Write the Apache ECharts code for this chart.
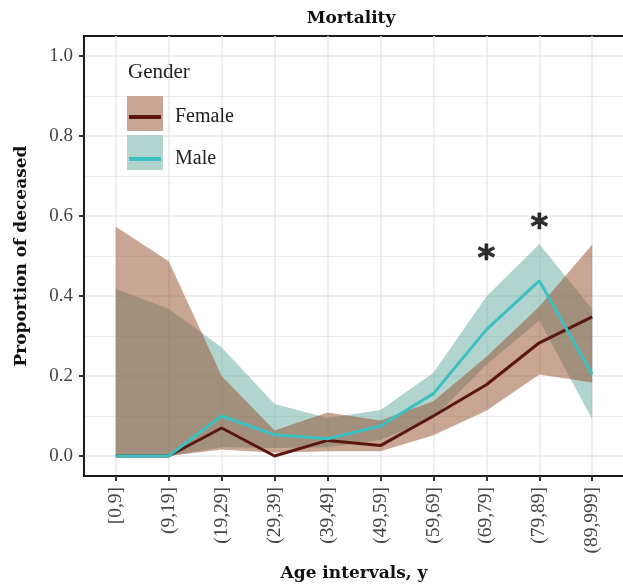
<!DOCTYPE html>
<html>
<head>
<meta charset="utf-8">
<script src="https://cdn.jsdelivr.net/npm/echarts@6/dist/echarts.min.js"></script>
<style>
html,body{margin:0;padding:0;background:#fff;}
#chart{width:623px;height:586px;}
</style>
</head>
<body>
<div id="chart"></div>
<script>
var categories = ['[0,9]','(9,19]','(19,29]','(29,39]','(39,49]','(49,59]','(59,69]','(69,79]','(79,89]','(89,999]'];
var femaleMean  = [0, 0, 0.070, 0.000, 0.039, 0.026, 0.100, 0.178, 0.283, 0.348];
var femaleLower = [0, 0, 0.016, 0.008, 0.012, 0.012, 0.052, 0.113, 0.204, 0.184];
var femaleUpper = [0.573, 0.487, 0.200, 0.064, 0.109, 0.089, 0.137, 0.248, 0.374, 0.529];
var maleMean  = [0, 0, 0.100, 0.053, 0.043, 0.075, 0.156, 0.316, 0.438, 0.204];
var maleLower = [0, 0, 0.022, 0.020, 0.022, 0.040, 0.095, 0.228, 0.339, 0.092];
var maleUpper = [0.418, 0.368, 0.272, 0.130, 0.095, 0.115, 0.208, 0.399, 0.530, 0.367];
var starIdx = [7, 8];
var starY = [0.507, 0.584];
var yMajorTicks = [0, 0.2, 0.4, 0.6, 0.8, 1.0];
var yMinorLines = [0.1, 0.3, 0.5, 0.7, 0.9];

var FONT = '"Liberation Serif", "DejaVu Serif", serif';
var BOLDFONT = '"DejaVu Serif", "Liberation Serif", serif';
var femaleFill = 'rgba(147,75,41,0.5)', maleFill = 'rgba(101,169,157,0.5)';
var femaleKey = '#c9a594', maleKey = '#b2d4ce';
var femaleLine = '#5a1712', maleLine = '#3cbfc1';

function pairs(arr){ return arr.map(function(v,i){ return [i, v]; }); }
var xIdx = categories.map(function(c,i){ return i; });

function ribbon(upper, lower, fill){
  return function(params, api){
    if (params.dataIndex !== 0) return null;
    var pts = [];
    for (var i = 0; i < upper.length; i++) pts.push(api.coord([i, upper[i]]));
    for (var j = lower.length - 1; j >= 0; j--) pts.push(api.coord([j, lower[j]]));
    return {type: 'polygon', shape: {points: pts}, style: {fill: fill, stroke: null}};
  };
}

var chart = echarts.init(document.getElementById('chart'), null, {renderer:'canvas'});
var option = {
  animation: false,
  backgroundColor: '#fff',
  textStyle: {fontFamily: FONT},
  title: [
    {text: 'Mortality', left: 351, top: 10, padding: 0, textAlign: 'center',
     textStyle: {fontFamily: BOLDFONT, fontWeight: 'bold', fontSize: 17, color: '#111'}},
    {text: 'Gender', left: 128, top: 62, padding: 0,
     textStyle: {fontFamily: FONT, fontWeight: 'normal', fontSize: 21, color: '#222'}}
  ],
  grid: {left: 84, top: 36, right: -1, bottom: 110, outerBoundsMode: 'none', containLabel: false,
         show: true, borderColor: '#1a1a1a', borderWidth: 2, backgroundColor: '#fff'},
  legend: [
    {left: 127, top: 96, orient: 'vertical', itemWidth: 36, itemHeight: 35, itemGap: 4, padding: 0,
     selectedMode: false, formatter: function(){ return ''; },
     data: [{name: 'Female', icon: 'rect', itemStyle: {color: femaleKey}},
            {name: 'Male', icon: 'rect', itemStyle: {color: maleKey}}],
     textStyle: {fontSize: 1}},
    {left: 129, top: 98, orient: 'vertical', itemWidth: 32, itemHeight: 4, itemGap: 4, padding: 0,
     selectedMode: false,
     data: [{name: 'Female', icon: 'rect', itemStyle: {color: femaleLine}},
            {name: 'Male', icon: 'rect', itemStyle: {color: maleLine}}],
     textStyle: {fontFamily: FONT, fontSize: 20, color: '#222', lineHeight: 35, padding: [3,0,0,9]}}
  ],
  xAxis: {
    type: 'value', min: -0.6, max: 9.6,
    name: 'Age intervals, y', nameLocation: 'middle', nameGap: 89,
    nameTextStyle: {fontFamily: BOLDFONT, fontWeight: 'bold', fontSize: 17, color: '#111'},
    axisLine: {show: true, onZero: false, lineStyle: {color: '#1a1a1a', width: 2}},
    axisTick: {show: true, length: 5, customValues: xIdx, lineStyle: {color: '#333', width: 2}},
    axisLabel: {customValues: xIdx, rotate: 90, margin: 11, fontFamily: FONT, fontSize: 19.5, color: '#444',
      formatter: function(v){ return categories[Math.round(v)]; }},
    splitLine: {show: true, lineStyle: {color: '#e8e8e8', width: 1.5}}
  },
  yAxis: [
    {type: 'value', min: -0.05, max: 1.05, interval: 0.05,
     name: 'Proportion of deceased', nameLocation: 'middle', nameGap: 54,
     nameTextStyle: {fontFamily: BOLDFONT, fontWeight: 'bold', fontSize: 17, color: '#111'},
     axisLine: {show: true, onZero: false, lineStyle: {color: '#1a1a1a', width: 2}},
     axisTick: {show: true, length: 5, customValues: yMajorTicks, lineStyle: {color: '#333', width: 2}},
     axisLabel: {customValues: yMajorTicks, margin: 11, fontFamily: FONT, fontSize: 19, color: '#444',
       formatter: function(v){ return v.toFixed(1); }},
     splitLine: {show: true, lineStyle: {color: '#e8e8e8', width: 1.5}}},
    {type: 'value', min: -0.05, max: 1.05, interval: 0.05, position: 'left',
     axisLine: {show: false}, axisLabel: {show: false},
     axisTick: {show: false, customValues: yMinorLines},
     splitLine: {show: true, lineStyle: {color: '#ececec', width: 1.2}}}
  ],
  series: [
    {name: 'Male', type: 'custom', data: pairs(maleUpper), renderItem: ribbon(maleUpper, maleLower, maleFill),
     itemStyle: {color: maleKey}, silent: true, clip: true, z: 2},
    {name: 'Female', type: 'custom', data: pairs(femaleUpper), renderItem: ribbon(femaleUpper, femaleLower, femaleFill),
     itemStyle: {color: femaleKey}, silent: true, clip: true, z: 3},
    {name: 'Female', type: 'line', data: pairs(femaleMean), symbol: 'none',
     lineStyle: {color: femaleLine, width: 3}, itemStyle: {color: femaleLine}, z: 4},
    {name: 'Male', type: 'line', data: pairs(maleMean), symbol: 'none',
     lineStyle: {color: maleLine, width: 3}, itemStyle: {color: maleLine}, z: 5},
    {name: 'stars', type: 'scatter', symbolSize: 1, itemStyle: {color: 'rgba(0,0,0,0)'},
     data: starIdx.map(function(i,k){ return [i, starY[k]]; }),
     label: {show: true, position: 'inside', formatter: '*', offset: [0, 7],
       fontFamily: '"DejaVu Sans", sans-serif', fontWeight: 'bold', fontSize: 34, color: '#000',
       textBorderColor: '#000', textBorderWidth: 0.8}, z: 6}
  ]
};
chart.setOption(option);
</script>
</body>
</html>
